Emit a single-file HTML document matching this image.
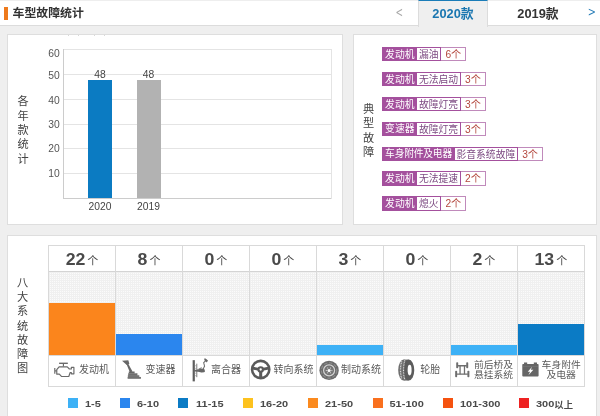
<!DOCTYPE html>
<html lang="zh-CN">
<head>
<meta charset="utf-8">
<title>车型故障统计</title>
<style>
*{box-sizing:border-box;margin:0;padding:0}
html,body{width:600px;height:416px;overflow:hidden;background:#efefef}
body{position:relative;font-family:"Liberation Sans","Noto Sans CJK SC",sans-serif;color:#444}
.abs{position:absolute}
#wrap{position:absolute;left:0;top:0;width:600px;height:416px;will-change:transform}
#hdr{left:0;top:0;width:600px;height:26px;background:#fff;border-top:1px solid #eee;border-bottom:1px solid #dcdcdc}
#hbar{left:4px;top:7px;width:4px;height:13px;background:#ee7a1c}
#htitle{left:12.5px;top:4px;font-size:11.9px;font-weight:bold;color:#333;line-height:18px;white-space:nowrap}
#tabact{left:418px;top:0;width:70px;height:27px;background:#efefef;border-top:1.5px solid #1a7cb8;border-left:1px solid #dcdcdc;border-right:1px solid #dcdcdc}
.tabt{top:4.5px;font-size:12.8px;font-weight:bold;line-height:18px;white-space:nowrap;text-align:center;width:70px}
.arr{top:3px;font-size:12px;line-height:18px;font-family:"DejaVu Sans","Liberation Sans",sans-serif}
.panel{background:#fff;border:1px solid #dedede}
.vt{width:14px;font-size:11.2px;text-align:center;color:#444}
.gl{left:63px;width:269px;height:1px;background:#e4e4e4}
.yl{left:39.7px;width:20px;text-align:right;font-size:10.3px;line-height:12px;color:#555}
.xl{width:40px;text-align:center;font-size:10.3px;line-height:12px;color:#444}
.row{left:382.2px;height:14.3px;white-space:nowrap;font-size:9.8px;line-height:13px;display:flex}
.row span{display:block;height:14.3px}
.t1{background:#a4509d;color:#fff;padding:0.7px 2.7px 0 2.9px}
.t2{border:0.8px solid #a4509d;border-left:0;color:#7d4a82;padding:0 1.8px;background:#fff}
.t3{border:0.8px solid #c08abb;border-left:0;color:#b3463c;padding:0 4.1px;background:#fff;font-size:10.2px}
.cell{top:246px;width:67px;height:140px;border-left:1px solid #d9d9d9}
.cnt{left:0;top:1px;width:66px;height:25px;text-align:center;font-size:15.7px;font-weight:bold;color:#4a4a4a;line-height:25px;white-space:nowrap}
.cnt b{display:inline-block;font-size:17.7px;line-height:25px;transform:scaleY(0.885);transform-origin:50% 62%;vertical-align:baseline}
.cnt i{font-style:normal;font-weight:normal;font-size:11px;margin-left:2px}
.plot{left:0;top:25px;width:66px;height:84px;background-color:#fbfbfb;background-image:linear-gradient(#f0f0f0 1px,transparent 1px),linear-gradient(90deg,#f0f0f0 1px,transparent 1px);background-size:2px 2px;border-top:1px solid #d4d4d4}
.bar{left:0;bottom:0;width:66px}
.lab{font-size:10px;color:#5a5a5a;white-space:nowrap;line-height:12px}
.lab2{font-size:9.8px;color:#5a5a5a;white-space:nowrap;line-height:9.7px;text-align:center;width:44px;transform:scaleY(0.93);transform-origin:50% 0}
.ico{width:70px;height:38px;top:352px;overflow:visible}
.lg{top:398px;width:10px;height:10px}
.lt{top:397px;font-size:9.3px;font-weight:bold;color:#4a4a4a;line-height:14px;white-space:nowrap}
.lt b{display:inline-block;font-size:11px;line-height:14px;transform:scaleY(0.87);transform-origin:50% 65%;position:relative;top:-0.9px}
</style>
</head>
<body>
<div id="wrap">
<div id="hdr" class="abs"></div>
<div id="hbar" class="abs"></div>
<div id="htitle" class="abs">车型故障统计</div>
<div id="tabact" class="abs"></div>
<div class="abs arr" style="left:394.4px;top:4.1px;font-size:12.5px;color:#a8a8a8;transform:scale(0.72,1.1)">&lt;</div>
<div class="abs tabt" style="left:418px;color:#1a76b0">2020款</div>
<div class="abs tabt" style="left:503px;color:#333">2019款</div>
<div class="abs arr" style="left:587.3px;top:3.3px;font-size:11.5px;color:#2a7fb8;transform:scale(0.85,1.06)">&gt;</div>
<div class="abs panel" style="left:7px;top:34px;width:336px;height:191px"></div>
<div class="abs vt" style="left:16px;top:94.2px;line-height:14.35px">各<br>年<br>款<br>统<br>计</div>
<div class="abs gl" style="top:49.0px"></div>
<div class="abs yl" style="top:47.9px">60</div>
<div class="abs gl" style="top:73.9px"></div>
<div class="abs yl" style="top:70.0px">50</div>
<div class="abs gl" style="top:98.7px"></div>
<div class="abs yl" style="top:94.5px">40</div>
<div class="abs gl" style="top:123.5px"></div>
<div class="abs yl" style="top:118.6px">30</div>
<div class="abs gl" style="top:148.3px"></div>
<div class="abs yl" style="top:143.4px">20</div>
<div class="abs gl" style="top:173.2px"></div>
<div class="abs yl" style="top:168.3px">10</div>
<div class="abs gl" style="top:198.0px;background:#ccc"></div>
<div class="abs" style="left:63px;top:49px;width:1px;height:150px;background:#ccc"></div>
<div class="abs" style="left:331px;top:49px;width:1px;height:150px;background:#e4e4e4"></div>
<div class="abs" style="left:88px;top:79.8px;width:24px;height:118.7px;background:#0b7bc2"></div>
<div class="abs xl" style="left:80px;top:68.7px">48</div>
<div class="abs xl" style="left:80px;top:201.2px">2020</div>
<div class="abs" style="left:136.5px;top:79.8px;width:24px;height:118.7px;background:#b2b2b2"></div>
<div class="abs xl" style="left:128.5px;top:68.7px">48</div>
<div class="abs xl" style="left:128.5px;top:201.2px">2019</div>
<div class="abs" style="left:68px;top:35px;width:1px;height:1px;background:#d8d8d8"></div>
<div class="abs" style="left:77.5px;top:35px;width:1px;height:1px;background:#d8d8d8"></div>
<div class="abs" style="left:94px;top:35px;width:1px;height:1px;background:#d8d8d8"></div>
<div class="abs" style="left:103.5px;top:35px;width:1px;height:1px;background:#d8d8d8"></div>
<div class="abs panel" style="left:353px;top:34px;width:243.5px;height:191px"></div>
<div class="abs vt" style="left:361.5px;top:102.2px;line-height:14.25px">典<br>型<br>故<br>障</div>
<div class="abs row" style="top:47.2px"><span class="t1">发动机</span><span class="t2">漏油</span><span class="t3">6个</span></div>
<div class="abs row" style="top:72.1px"><span class="t1">发动机</span><span class="t2">无法启动</span><span class="t3">3个</span></div>
<div class="abs row" style="top:96.9px"><span class="t1">发动机</span><span class="t2">故障灯亮</span><span class="t3">3个</span></div>
<div class="abs row" style="top:121.8px"><span class="t1">变速器</span><span class="t2">故障灯亮</span><span class="t3">3个</span></div>
<div class="abs row" style="top:146.6px"><span class="t1" style="letter-spacing:-0.24px">车身附件及电器</span><span class="t2">影音系统故障</span><span class="t3">3个</span></div>
<div class="abs row" style="top:171.4px"><span class="t1">发动机</span><span class="t2">无法提速</span><span class="t3">2个</span></div>
<div class="abs row" style="top:196.3px"><span class="t1">发动机</span><span class="t2">熄火</span><span class="t3">2个</span></div>
<div class="abs panel" style="left:7px;top:235px;width:589.5px;height:190px"></div>
<div class="abs vt" style="left:15.5px;top:276px;line-height:14.17px">八<br>大<br>系<br>统<br>故<br>障<br>图</div>
<div class="abs" style="left:48px;top:245px;width:536.8px;height:141.5px;border:1px solid #d9d9d9;background:#fff"></div>
<div class="abs cell" style="left:48.0px">
<div class="abs cnt"><b>22</b><i>个</i></div>
<div class="abs plot"><div class="abs bar" style="height:52px;background:#fb851c"></div></div>
</div>
<div class="abs cell" style="left:115.0px">
<div class="abs cnt"><b>8</b><i>个</i></div>
<div class="abs plot"><div class="abs bar" style="height:21px;background:#2b86ee"></div></div>
</div>
<div class="abs cell" style="left:181.9px">
<div class="abs cnt"><b>0</b><i>个</i></div>
<div class="abs plot"></div>
</div>
<div class="abs cell" style="left:248.9px">
<div class="abs cnt"><b>0</b><i>个</i></div>
<div class="abs plot"></div>
</div>
<div class="abs cell" style="left:315.9px">
<div class="abs cnt"><b>3</b><i>个</i></div>
<div class="abs plot"><div class="abs bar" style="height:10.5px;background:#3db1f6"></div></div>
</div>
<div class="abs cell" style="left:382.9px">
<div class="abs cnt"><b>0</b><i>个</i></div>
<div class="abs plot"></div>
</div>
<div class="abs cell" style="left:449.8px">
<div class="abs cnt"><b>2</b><i>个</i></div>
<div class="abs plot"><div class="abs bar" style="height:10px;background:#3db1f6"></div></div>
</div>
<div class="abs cell" style="left:516.8px">
<div class="abs cnt"><b>13</b><i>个</i></div>
<div class="abs plot"><div class="abs bar" style="height:31.5px;background:#0b7bc5"></div></div>
</div>
<div class="abs" style="left:49px;top:354.5px;width:535px;height:1px;background:#d9d9d9"></div>
<div class="abs lab" style="left:78.9px;top:363.7px">发动机</div>
<div class="abs lab" style="left:145.6px;top:363.7px">变速器</div>
<div class="abs lab" style="left:210.9px;top:363.7px">离合器</div>
<div class="abs lab" style="left:273.5px;top:363.7px">转向系统</div>
<div class="abs lab" style="left:341.1px;top:363.7px">制动系统</div>
<div class="abs lab" style="left:420.3px;top:363.7px">轮胎</div>
<div class="abs lab2" style="left:471.5px;top:360.5px">前后桥及<br>悬挂系统</div>
<div class="abs lab2" style="left:539.2px;top:360.5px">车身附件<br>及电器</div>
<svg class="abs ico" style="left:48px" viewBox="0 0 600 326"><g fill="none" stroke="#6a6a6a" stroke-width="10" stroke-linejoin="round"><path d="M95 97H170" stroke-width="12"/><path d="M132 97V124"/><path d="M75 152L95 127H165L183 146H200V132H222V187H200V176H190L178 210H115L97 190H75Z"/><path d="M58 138V186M58 162H75"/></g></svg>
<svg class="abs ico" style="left:115px" viewBox="0 0 600 326"><g fill="#676767" stroke="none"><path d="M60 75L114 70L123 100L101 112Z"/><path d="M98 102L111 96L150 168L128 176Z"/><path d="M118 168H168V183H192V199H208V214H222V229H108V214H110V199H113V183H118Z"/></g><g stroke="#b4b4b4" stroke-width="3"><path d="M116 184H186M112 199H204M110 214H218"/></g></svg>
<svg class="abs ico" style="left:182px" viewBox="0 0 600 326"><g fill="#5e5e5e"><rect x="91" y="70" width="19" height="182"/><rect x="122" y="100" width="9" height="116" fill="#858585"/></g><g stroke="#8c8c8c" stroke-width="5"><path d="M110 118H124M110 140H124M110 182H124M110 203H124"/></g><g fill="none" stroke="#666" stroke-linecap="round"><path d="M109 160L188 166" stroke-width="15"/><path d="M131 154L165 136" stroke-width="8"/><path d="M180 148L193 122L186 92L207 70" stroke-width="9" stroke-dasharray="15 4"/></g><ellipse cx="168" cy="158" rx="27" ry="17" fill="#666"/><path d="M195 52L223 72L212 90L190 69Z" fill="#666"/></svg>
<svg class="abs ico" style="left:249px" viewBox="0 0 600 326"><circle cx="100" cy="150" r="74" fill="none" stroke="#5a5a5a" stroke-width="22"/><g stroke="#5a5a5a" stroke-linecap="butt"><path d="M32 138L86 150" stroke-width="24"/><path d="M168 138L114 150" stroke-width="24"/><path d="M100 165V222" stroke-width="26"/></g><circle cx="100" cy="150" r="28" fill="#5a5a5a"/><circle cx="100" cy="150" r="10" fill="#fff"/></svg>
<svg class="abs ico" style="left:316px" viewBox="0 0 600 326"><circle cx="112" cy="158" r="83" fill="#6b6b6b"/><circle cx="112" cy="158" r="66" fill="none" stroke="#8e8e8e" stroke-width="9" stroke-dasharray="30 14"/><circle cx="112" cy="158" r="47" fill="none" stroke="#d2d2d2" stroke-width="11"/><circle cx="112" cy="158" r="36" fill="#787878"/><circle cx="136.0" cy="158.0" r="4.5" fill="#e8e8e8"/><circle cx="124.0" cy="178.8" r="4.5" fill="#e8e8e8"/><circle cx="100.0" cy="178.8" r="4.5" fill="#e8e8e8"/><circle cx="88.0" cy="158.0" r="4.5" fill="#e8e8e8"/><circle cx="100.0" cy="137.2" r="4.5" fill="#e8e8e8"/><circle cx="124.0" cy="137.2" r="4.5" fill="#e8e8e8"/><circle cx="112" cy="158" r="13" fill="#fff"/></svg>
<svg class="abs ico" style="left:383px" viewBox="0 0 600 326"><ellipse cx="178" cy="155" rx="48" ry="90" fill="#6e6e6e"/><rect x="178" y="65" width="42" height="180" fill="#6e6e6e"/><ellipse cx="220" cy="155" rx="48" ry="90" fill="#5c5c5c"/><path d="M160 80Q140 155 160 230" fill="none" stroke="#d8d8d8" stroke-width="11" stroke-dasharray="8 6"/><path d="M186 72Q166 155 186 238" fill="none" stroke="#dedede" stroke-width="10" stroke-dasharray="8 6"/><ellipse cx="228" cy="155" rx="17" ry="46" fill="#fff"/></svg>
<svg class="abs ico" style="left:450px" viewBox="0 0 600 326"><g fill="#6e6e6e"><rect x="53" y="88" width="17" height="52" rx="7"/><rect x="139" y="88" width="17" height="52" rx="7"/><rect x="44" y="160" width="17" height="57" rx="7"/><rect x="149" y="160" width="17" height="57" rx="7"/></g><g stroke="#6e6e6e" stroke-width="12" fill="none"><path d="M66 118H143M57 190H153"/><path d="M86 118V190M124 118V190" stroke-width="11"/></g></svg>
<svg class="abs ico" style="left:517px" viewBox="0 0 600 326"><rect x="45" y="102" width="140" height="108" rx="8" fill="#666"/><rect x="60" y="90" width="27" height="14" fill="#666"/><rect x="144" y="90" width="27" height="14" fill="#666"/><path d="M50 124H180" stroke="#8a8a8a" stroke-width="3"/><path d="M129 126L92 169H112L98 200L140 152H118Z" fill="#fff"/></svg>
<div class="abs lg" style="left:67.5px;background:#3db1f6"></div>
<div class="abs lt" style="left:85px"><b>1-5</b></div>
<div class="abs lg" style="left:120px;background:#2b86ee"></div>
<div class="abs lt" style="left:137px"><b>6-10</b></div>
<div class="abs lg" style="left:178px;background:#0b7bc5"></div>
<div class="abs lt" style="left:196px"><b>11-15</b></div>
<div class="abs lg" style="left:243px;background:#fdc21e"></div>
<div class="abs lt" style="left:260px"><b>16-20</b></div>
<div class="abs lg" style="left:307.5px;background:#fb8a1e"></div>
<div class="abs lt" style="left:325px"><b>21-50</b></div>
<div class="abs lg" style="left:372.5px;background:#f9701e"></div>
<div class="abs lt" style="left:389.5px"><b>51-100</b></div>
<div class="abs lg" style="left:442.5px;background:#f5520f"></div>
<div class="abs lt" style="left:460px"><b>101-300</b></div>
<div class="abs lg" style="left:519px;background:#ee2222"></div>
<div class="abs lt" style="left:536px"><b>300</b>以上</div>
</div>
</body>
</html>
